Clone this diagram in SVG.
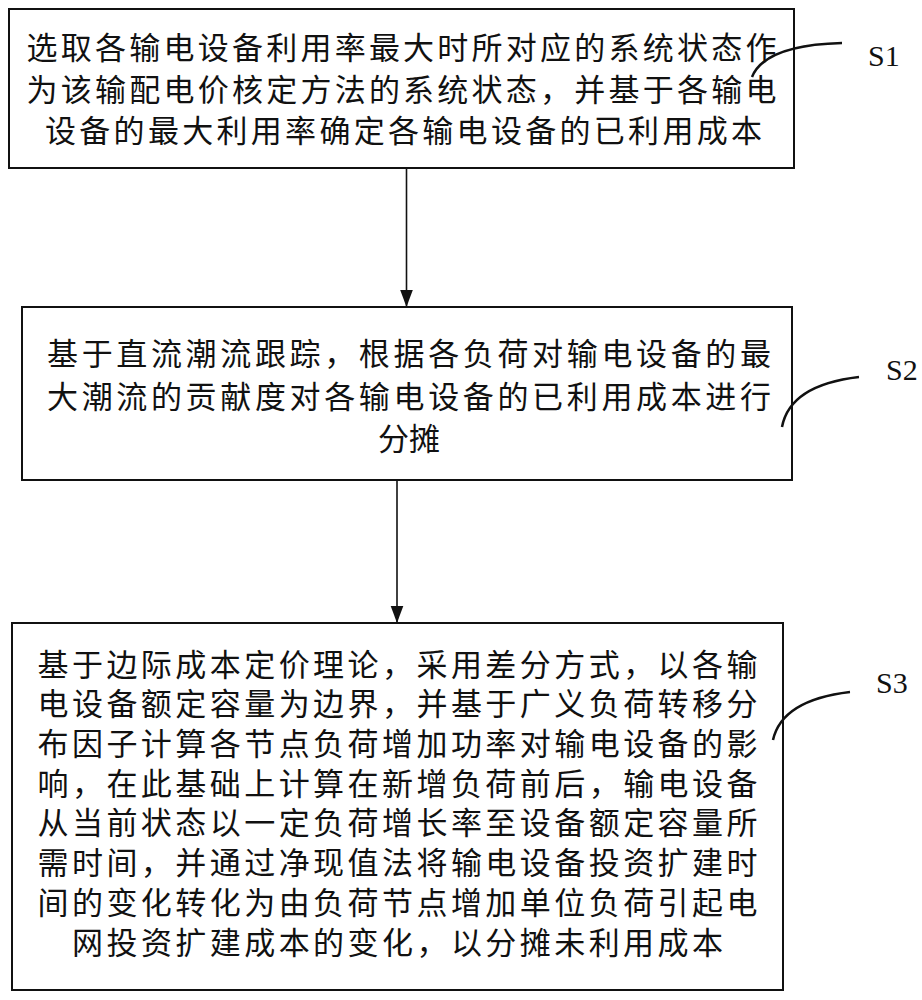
<svg xmlns="http://www.w3.org/2000/svg" width="922" height="1000" viewBox="0 0 922 1000">
<style>
.box{fill:#fff;stroke:#111;stroke-width:2}
.t{font-family:"Noto Sans CJK SC","Noto Sans CJK JP",sans-serif;font-size:31px;fill:#111;text-anchor:middle;dominant-baseline:central}
.lbl{font-family:"Liberation Serif","DejaVu Serif",serif;font-size:30px;fill:#111}
.curve{fill:none;stroke:#111;stroke-width:2.5}
.arrow{fill:none;stroke:#111;stroke-width:1.6}
</style>
<defs>
<marker id="ah" markerUnits="userSpaceOnUse" markerWidth="18" markerHeight="24" refX="23" refY="8.5" orient="auto" viewBox="0 0 24 17">
<path d="M0,0 L23,8.5 L0,17 Z" fill="#111"/>
</marker>
</defs>
<rect width="922" height="1000" fill="#fff"/>
<g id="connectors">
<line class="arrow" x1="406.5" y1="168" x2="406.5" y2="307" marker-end="url(#ah)"/>
<line class="arrow" x1="397" y1="480" x2="397" y2="623" marker-end="url(#ah)"/>
</g>
<g id="S1">
<rect class="box" x="9" y="9" width="785" height="159"/>
<text class="t" x="401.5" y="45.5" textLength="750" lengthAdjust="spacing">选取各输电设备利用率最大时所对应的系统状态作</text>
<text class="t" x="401.5" y="87" textLength="750" lengthAdjust="spacing">为该输配电价核定方法的系统状态，并基于各输电</text>
<text class="t" x="403.5" y="128" textLength="717" lengthAdjust="spacing">设备的最大利用率确定各输电设备的已利用成本</text>
<path class="curve" d="M752,77 Q765,45 842,43"/>
<text class="lbl" x="868" y="66">S1</text>
</g>
<g id="S2">
<rect class="box" x="22" y="307" width="770" height="173"/>
<text class="t" x="409" y="351" textLength="724" lengthAdjust="spacing">基于直流潮流跟踪，根据各负荷对输电设备的最</text>
<text class="t" x="409" y="394.5" textLength="724" lengthAdjust="spacing">大潮流的贡献度对各输电设备的已利用成本进行</text>
<text class="t" x="409" y="436">分摊</text>
<path class="curve" d="M782,427 Q790,385 859,377"/>
<text class="lbl" x="886" y="380">S2</text>
</g>
<g id="S3">
<rect class="box" x="12" y="623" width="771" height="367"/>
<text class="t" x="397.5" y="662" textLength="720" lengthAdjust="spacing">基于边际成本定价理论，采用差分方式，以各输</text>
<text class="t" x="397.5" y="701.7" textLength="720" lengthAdjust="spacing">电设备额定容量为边界，并基于广义负荷转移分</text>
<text class="t" x="397.5" y="741.4" textLength="720" lengthAdjust="spacing">布因子计算各节点负荷增加功率对输电设备的影</text>
<text class="t" x="397.5" y="781.1" textLength="720" lengthAdjust="spacing">响，在此基础上计算在新增负荷前后，输电设备</text>
<text class="t" x="397.5" y="820.8" textLength="720" lengthAdjust="spacing">从当前状态以一定负荷增长率至设备额定容量所</text>
<text class="t" x="397.5" y="860.5" textLength="720" lengthAdjust="spacing">需时间，并通过净现值法将输电设备投资扩建时</text>
<text class="t" x="397.5" y="900.2" textLength="720" lengthAdjust="spacing">间的变化转化为由负荷节点增加单位负荷引起电</text>
<text class="t" x="397.5" y="940" textLength="651" lengthAdjust="spacing">网投资扩建成本的变化，以分摊未利用成本</text>
<path class="curve" d="M773,740 Q782,700 850,692"/>
<text class="lbl" x="876" y="693">S3</text>
</g>
</svg>
